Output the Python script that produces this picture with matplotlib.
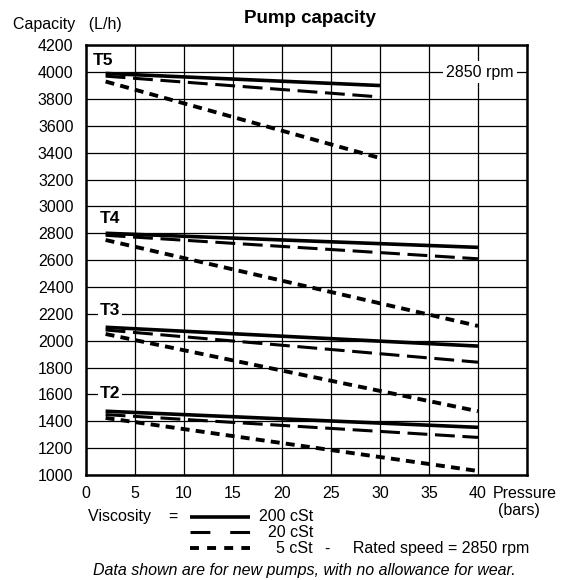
import numpy as np
import matplotlib
matplotlib.use('Agg')
import matplotlib.pyplot as plt
from matplotlib.lines import Line2D

plt.rcParams['font.family'] = ['Liberation Sans', 'DejaVu Sans']

# pressure (bars) at start / end of each curve
pumps = ['T5', 'T4', 'T3', 'T2']
p_start = [2, 2, 2, 2]
p_end = [30, 40, 40, 40]
# capacity (L/h) at start and end, per viscosity
cap_200 = [(3990, 3900), (2800, 2695), (2100, 1960), (1475, 1355)]
cap_20 = [(3970, 3815), (2785, 2610), (2080, 1840), (1450, 1280)]
cap_5 = [(3930, 3360), (2750, 2110), (2050, 1475), (1425, 1030)]
label_pos = [(0.7, 4090), (1.4, 2910), (1.4, 2225), (1.4, 1610)]

st200 = dict(lw=2.6, solid_capstyle='butt')
st20 = dict(lw=2.2, dashes=(6.5, 2.5))
st5 = dict(lw=2.8, dashes=(2.3, 1.6))

fig = plt.figure(figsize=(5.61, 5.8), dpi=100)
ax = fig.add_axes([0.1533, 0.181, 0.786, 0.741])

for i in range(len(pumps)):
    x = [p_start[i], p_end[i]]
    ax.plot(x, cap_200[i], color='black', **st200)
    ax.plot(x, cap_20[i], color='black', **st20)
    ax.plot(x, cap_5[i], color='black', **st5)
    ax.text(label_pos[i][0], label_pos[i][1], pumps[i], fontsize=12.5, fontweight='bold',
            va='center', ha='left',
            bbox=dict(facecolor='white', edgecolor='none', pad=1.5))

ax.text(40.2, 4000, '2850 rpm', fontsize=11.5, ha='center', va='center',
        bbox=dict(facecolor='white', edgecolor='none', pad=2.5))

ax.set_xlim(0, 45)
ax.set_ylim(1000, 4200)
ax.set_xticks(np.arange(0, 46, 5))
ax.set_xticklabels([str(v) for v in range(0, 41, 5)] + [''])
ax.set_yticks(np.arange(1000, 4201, 200))
ax.tick_params(length=0, labelsize=11.5)
ax.tick_params(axis='y', pad=9)
ax.tick_params(axis='x', pad=8)
ax.grid(True, color='black', lw=0.9)
ax.set_axisbelow(True)
for s in ax.spines.values():
    s.set_linewidth(1.8)

fig.text(0.023, 0.957, 'Capacity   (L/h)', fontsize=11.5, va='center')
fig.text(0.553, 0.968, 'Pump capacity', fontsize=13.5, fontweight='bold', ha='center', va='center')
fig.text(0.878, 0.149, 'Pressure', fontsize=11.5, va='center')
fig.text(0.925, 0.120, '(bars)', fontsize=11.5, va='center', ha='center')

# viscosity key
fig.text(0.157, 0.109, 'Viscosity    =', fontsize=11.5, va='center')
keys = [('200 cSt', st200), ('20 cSt', dict(lw=2.2, dashes=(6.5, 6.5))),
        ('5 cSt', dict(lw=2.8, dashes=(2.3, 2.1)))]
for k, (lab, st) in enumerate(keys):
    yy = 0.109 - k * 0.027
    fig.add_artist(Line2D([0.339, 0.446], [yy, yy], color='black', transform=fig.transFigure, **st))
    fig.text(0.558, yy, lab, fontsize=11.5, va='center', ha='right')
fig.text(0.579, 0.055, '-     Rated speed = 2850 rpm', fontsize=11.5, va='center')

fig.text(0.542, 0.017, 'Data shown are for new pumps, with no allowance for wear.',
         fontsize=11.5, style='italic', ha='center', va='center')

plt.savefig('out.png', dpi=100)
